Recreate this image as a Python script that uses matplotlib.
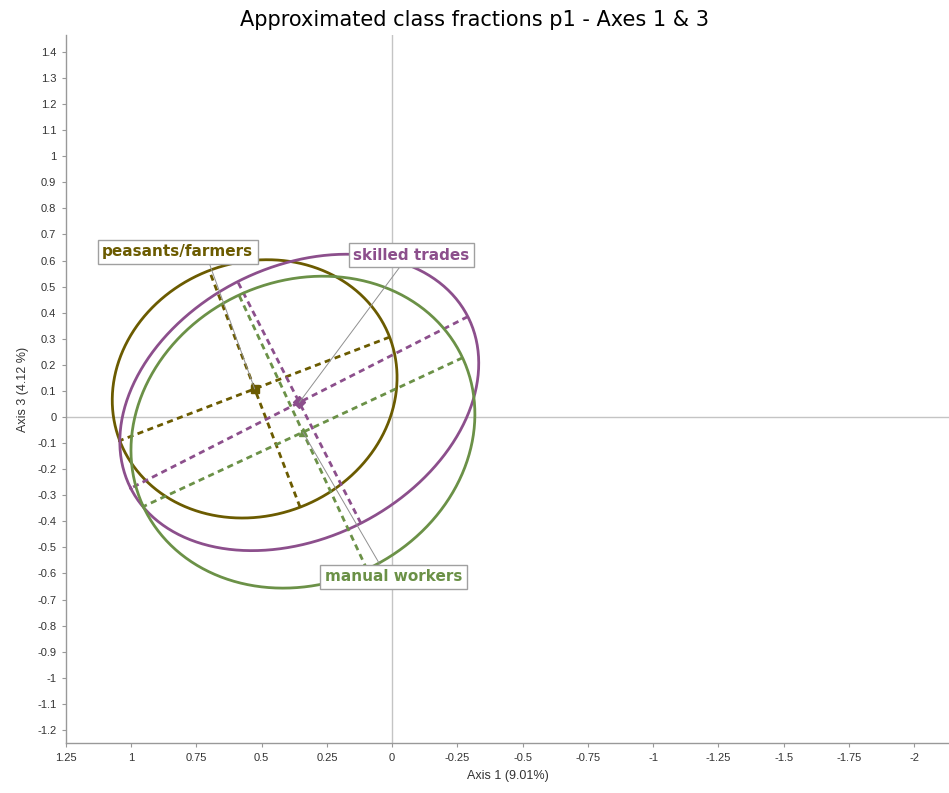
import numpy as np
import matplotlib
matplotlib.use('Agg')
import matplotlib.pyplot as plt

# class fractions: ellipse centres, half axes (data units) and tilt of the major axis
classes = ['peasants/farmers', 'skilled trades', 'manual workers']
center_x = [0.527, 0.356, 0.342]
center_y = [0.108, 0.056, -0.058]
semi_major = [0.554, 0.725, 0.675]
semi_minor = [0.486, 0.520, 0.580]
angle_deg = [-21.0, -27.0, -25.0]

colors = ['#6b5b00', '#8c4f8c', '#6b9147']
markers = ['s', 'D', '^']

# label boxes (data coords) and where the leader line leaves the box
label_xy = [(0.822, 0.633), (-0.073, 0.621), (-0.006, -0.613)]
label_relpos = [(0.70, 0.0), (0.43, 0.0), (0.42, 1.0)]

x_ticks = [1.25, 1, 0.75, 0.5, 0.25, 0, -0.25, -0.5, -0.75, -1, -1.25, -1.5, -1.75, -2]
x_ticklabels = ['1.25', '1', '0.75', '0.5', '0.25', '0', '-0.25', '-0.5', '-0.75',
                '-1', '-1.25', '-1.5', '-1.75', '-2']
y_ticks = [1.4, 1.3, 1.2, 1.1, 1, 0.9, 0.8, 0.7, 0.6, 0.5, 0.4, 0.3, 0.2, 0.1, 0,
           -0.1, -0.2, -0.3, -0.4, -0.5, -0.6, -0.7, -0.8, -0.9, -1, -1.1, -1.2]
y_ticklabels = ['1.4', '1.3', '1.2', '1.1', '1', '0.9', '0.8', '0.7', '0.6', '0.5',
                '0.4', '0.3', '0.2', '0.1', '0', '-0.1', '-0.2', '-0.3', '-0.4', '-0.5',
                '-0.6', '-0.7', '-0.8', '-0.9', '-1', '-1.1', '-1.2']

fig = plt.figure(figsize=(9.49, 7.93), dpi=100)
ax = fig.add_axes([66 / 949, 50 / 793, 883 / 949, 708 / 793])

ax.set_xlim(1.25, -2.134)
ax.set_ylim(-1.25, 1.465)

# zero lines
ax.axhline(0, color='#c4c4c4', lw=1, zorder=1)
ax.axvline(0, color='#c4c4c4', lw=1, zorder=1)

t = np.linspace(0, 2 * np.pi, 300)
for i in range(len(classes)):
    cx, cy = center_x[i], center_y[i]
    a, b = semi_major[i], semi_minor[i]
    th = np.radians(angle_deg[i])
    u = np.array([np.cos(th), np.sin(th)])
    v = np.array([-np.sin(th), np.cos(th)])
    ex = cx + a * np.cos(t) * u[0] + b * np.sin(t) * v[0]
    ey = cy + a * np.cos(t) * u[1] + b * np.sin(t) * v[1]
    ax.plot(ex, ey, color=colors[i], lw=2, zorder=3)
    # dashed principal axes
    ax.plot([cx - a * u[0], cx + a * u[0]], [cy - a * u[1], cy + a * u[1]],
            color=colors[i], lw=2, ls=(0, (2.2, 1.6)), zorder=3)
    ax.plot([cx - b * v[0], cx + b * v[0]], [cy - b * v[1], cy + b * v[1]],
            color=colors[i], lw=2, ls=(0, (2.2, 1.6)), zorder=3)
    ax.plot(cx, cy, marker=markers[i], color=colors[i], ms=6, zorder=4)
    ax.annotate(classes[i], xy=(cx, cy), xytext=label_xy[i],
                ha='center', va='center', fontsize=11, fontweight='bold',
                color=colors[i], zorder=5,
                bbox=dict(boxstyle='square,pad=0.3', fc='white', ec='#a0a0a0', lw=1),
                arrowprops=dict(arrowstyle='-', color='#909090', lw=0.7,
                                relpos=label_relpos[i], shrinkA=0, shrinkB=0))

ax.set_xticks(x_ticks)
ax.set_xticklabels(x_ticklabels, fontsize=8, family='Liberation Sans', color='#333333')
ax.set_yticks(y_ticks)
ax.set_yticklabels(y_ticklabels, fontsize=8, family='Liberation Sans', color='#333333')
ax.tick_params(axis='both', length=3, width=0.8, color='#999999', pad=4)

for side in ['top', 'right']:
    ax.spines[side].set_visible(False)
for side in ['left', 'bottom']:
    ax.spines[side].set_color('#999999')
    ax.spines[side].set_linewidth(1)

ax.set_xlabel('Axis 1 (9.01%)', fontsize=9, family='Liberation Sans', labelpad=5, color='#333333')
ax.set_ylabel('Axis 3 (4.12 %)', fontsize=9, family='Liberation Sans', labelpad=6, color='#333333')
fig.suptitle('Approximated class fractions p1 - Axes 1 & 3', fontsize=15, y=0.988)

fig.savefig('out.png', dpi=100)
